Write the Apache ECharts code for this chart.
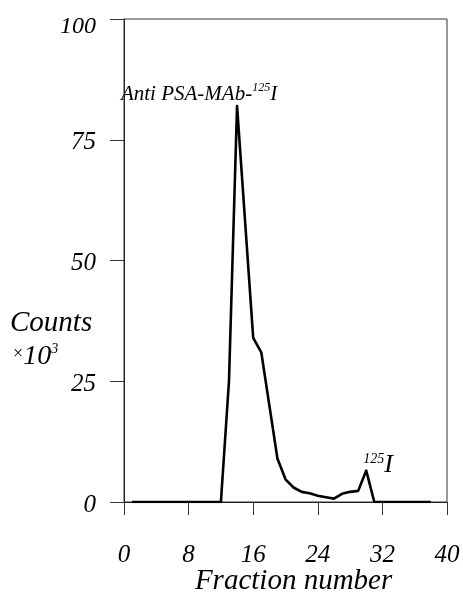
<!DOCTYPE html>
<html>
<head>
<meta charset="utf-8">
<script src="https://cdn.jsdelivr.net/npm/echarts@6/dist/echarts.min.js"></script>
<style>
html,body{margin:0;padding:0;background:#fff;}
#c{width:463px;height:594px;}
</style>
</head>
<body>
<div id="c"></div>
<script>
// Data
const fractions = [1,2,3,4,5,6,7,8,9,10,11,12,13,14,15,16,17,18,19,20,21,22,23,24,25,26,27,28,29,30,31,32,33,34,35,36,37,38];
const counts    = [0,0,0,0,0,0,0,0,0,0,0,0,25,82,58,34,31,20,9,4.7,3,2.1,1.8,1.3,1.0,0.7,1.7,2.1,2.3,6.5,0,0,0,0,0,0,0,0];
const xTicks = [0, 8, 16, 24, 32, 40];
const yTicks = [0, 25, 50, 75, 100];

const FONT = '"Liberation Serif", "Times New Roman", serif';
const chart = echarts.init(document.getElementById('c'), null, {renderer: 'canvas'});

const labelRich = {
  n: {fontFamily: FONT, fontStyle: 'italic', fontSize: 25, color: '#000', padding: [6, 0, 0, 0]},
  t: {fontFamily: FONT, fontStyle: 'italic', fontSize: 24, color: '#000', padding: [16, 0, 0, 0]}
};

const option = {
  animation: false,
  backgroundColor: '#fff',
  grid: {left: 124, right: 16, top: 19, bottom: 92, show: true, borderColor: '#333', borderWidth: 1, backgroundColor: 'transparent'},
  xAxis: {
    type: 'value', min: xTicks[0], max: xTicks[xTicks.length - 1], interval: 8,
    axisLine: {show: true, lineStyle: {color: '#222', width: 1}},
    axisTick: {show: true, inside: false, length: 13, lineStyle: {color: '#333', width: 1}},
    axisLabel: {margin: 41, fontFamily: FONT, fontStyle: 'italic', fontSize: 25, color: '#000'},
    splitLine: {show: false}
  },
  yAxis: {
    type: 'value', min: yTicks[0], max: yTicks[yTicks.length - 1], interval: 25,
    axisLine: {show: true, lineStyle: {color: '#222', width: 1}},
    axisTick: {show: true, inside: false, length: 14, lineStyle: {color: '#333', width: 1}},
    axisLabel: {
      margin: 28, fontFamily: FONT, fontStyle: 'italic', fontSize: 25, color: '#000',
      formatter: v => (v === yTicks[yTicks.length - 1] ? '{t|' + v + '}' : '{n|' + v + '}'),
      rich: labelRich
    },
    splitLine: {show: false}
  },
  series: [{
    type: 'line',
    data: fractions.map((f, i) => [f, counts[i]]),
    showSymbol: false,
    symbol: 'none',
    lineStyle: {color: '#000', width: 2.6, join: 'round'},
    itemStyle: {color: '#000'}
  }]
};
chart.setOption(option);

// Annotations anchored to data coordinates
const peak = chart.convertToPixel({gridIndex: 0}, [14, 82]);
const small = chart.convertToPixel({gridIndex: 0}, [30, 6.5]);
const xMid = chart.convertToPixel({gridIndex: 0}, [21, 0]);

chart.setOption({
  graphic: [
    {
      type: 'text', x: peak[0] - 38, y: peak[1] - 1,
      style: {
        text: '{a|Anti PSA-MAb-}{s|125}{a|I}',
        align: 'center', verticalAlign: 'bottom',
        rich: {
          a: {fontFamily: FONT, fontStyle: 'italic', fontSize: 21, fill: '#000', verticalAlign: 'bottom'},
          s: {fontFamily: FONT, fontStyle: 'italic', fontSize: 12, fill: '#000', verticalAlign: 'top', padding: [0,0,11,0]}
        }
      }
    },
    {
      type: 'text', x: small[0] - 3, y: small[1] + 8,
      style: {
        text: '{s|125}{a|I}',
        align: 'left', verticalAlign: 'bottom',
        rich: {
          a: {fontFamily: FONT, fontStyle: 'italic', fontSize: 26, fill: '#000'},
          s: {fontFamily: FONT, fontStyle: 'italic', fontSize: 14, fill: '#000', padding: [0,0,12,0]}
        }
      }
    },
    {
      type: 'text', x: xMid[0] + 0, y: 581,
      style: {
        text: 'Fraction number', align: 'center', verticalAlign: 'middle',
        fontFamily: FONT, fontStyle: 'italic', fontSize: 29, fill: '#000'
      }
    },
    {
      type: 'text', x: 10, y: 323,
      style: {
        text: 'Counts', align: 'left', verticalAlign: 'middle',
        fontFamily: FONT, fontStyle: 'italic', fontSize: 29, fill: '#000'
      }
    },
    {
      type: 'text', x: 13, y: 357,
      style: {
        text: '{x|×}{a|10}{s|3}',
        align: 'left', verticalAlign: 'middle',
        rich: {
          x: {fontFamily: FONT, fontSize: 18, fill: '#000', padding: [0,0,6,0]},
          a: {fontFamily: FONT, fontStyle: 'italic', fontSize: 28, fill: '#000'},
          s: {fontFamily: FONT, fontStyle: 'italic', fontSize: 14, fill: '#000', padding: [0,0,16,0]}
        }
      }
    }
  ]
});
</script>
</body>
</html>
